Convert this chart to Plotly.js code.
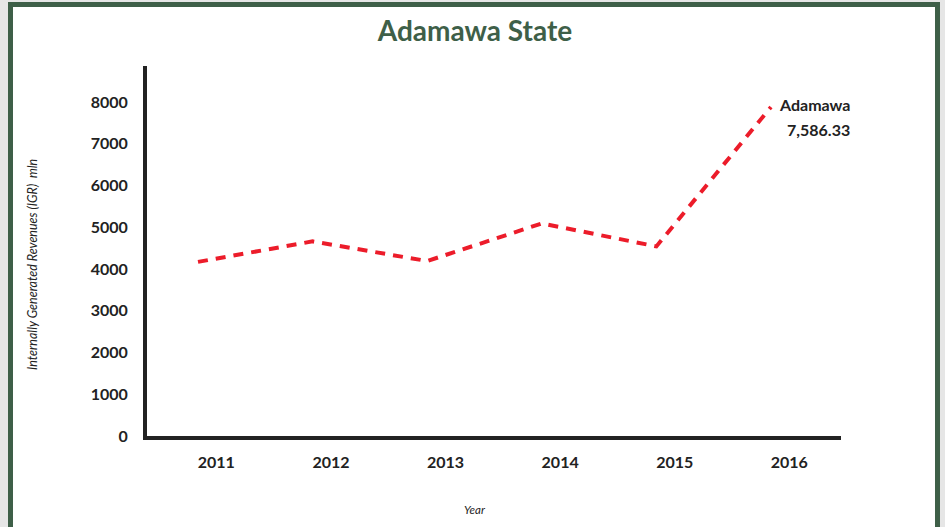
<!DOCTYPE html>
<html>
<head>
<meta charset="utf-8">
<script src="https://cdn.plot.ly/plotly-3.0.1.min.js"></script>
<style>
  html, body { margin:0; padding:0; width:945px; height:527px; overflow:hidden; background:#e6e6e6; }
  #frame { position:absolute; left:8px; top:2px; width:922px; height:530px; border:5px solid #3e5f48; background:#ffffff; }
  #chart { position:absolute; left:0; top:0; width:945px; height:527px; }
</style>
</head>
<body>
<div id="frame"></div>
<div id="chart"></div>
<script>
const years = ['2011','2012','2013','2014','2015','2016'];
const igr = [4170, 4660, 4190, 5090, 4540, 7880];
const endName = 'Adamawa';
const endValue = '7,586.33';
const chartTitle = 'Adamawa State';
const yTitle = 'Internally Generated Revenues (IGR)  mln';
const xTitle = 'Year';
const yTicks = [0,1000,2000,3000,4000,5000,6000,7000,8000];

const idx = years.map((_, i) => i);
const labelShift = 0.16;
const last = idx.length - 1;

const trace = {
  x: idx,
  y: igr,
  type: 'scatter',
  mode: 'lines',
  line: { color: '#ec1c2a', width: 4, dash: '10px,8px' },
  hoverinfo: 'skip',
  showlegend: false
};

const font = "Lato, 'Open Sans', sans-serif";
const L = 147, R = 841, T = 66, B = 436;

const layout = {
  width: 945, height: 527,
  margin: { l: L, r: 945 - R, t: T, b: 527 - B },
  paper_bgcolor: 'rgba(0,0,0,0)',
  plot_bgcolor: 'rgba(0,0,0,0)',
  font: { family: font, color: '#222222' },
  title: {
    text: '<b>' + chartTitle + '</b>',
    font: { family: font, size: 28, color: '#3e5f48' },
    x: 475 / 945, xanchor: 'center', xref: 'container',
    y: 1 - 31 / 527, yanchor: 'middle', yref: 'container'
  },
  xaxis: {
    range: [-(198 - L) / 114.6, (R - 198) / 114.6],
    showgrid: false, zeroline: false,
    showline: true, linecolor: '#222222', linewidth: 4,
    tickmode: 'array',
    tickvals: idx.map(i => i + labelShift),
    ticktext: years.map(y => '<b>' + y + '</b>'),
    ticks: '', ticklabelstandoff: 9,
    tickfont: { family: font, size: 16, color: '#222222' },
    fixedrange: true
  },
  yaxis: {
    range: [0, 8860],
    showgrid: false, zeroline: false,
    showline: true, linecolor: '#222222', linewidth: 4,
    tickmode: 'array',
    tickvals: yTicks,
    ticktext: yTicks.map(v => '<b>' + v + '</b>'),
    ticks: '', ticklabelstandoff: 12,
    tickfont: { family: font, size: 16, color: '#222222' },
    fixedrange: true
  },
  annotations: [
    {
      text: '<b>' + endName + '</b>',
      xref: 'x', yref: 'y',
      x: idx[last], y: igr[last],
      xanchor: 'right', yanchor: 'middle',
      xshift: 81, yshift: 2,
      showarrow: false,
      font: { family: font, size: 16, color: '#222222' }
    },
    {
      text: '<b>' + endValue + '</b>',
      xref: 'x', yref: 'y',
      x: idx[last], y: igr[last],
      xanchor: 'right', yanchor: 'middle',
      xshift: 81, yshift: -23,
      showarrow: false,
      font: { family: font, size: 16, color: '#222222' }
    },
    {
      text: '<i>' + yTitle + '</i>',
      xref: 'paper', yref: 'paper',
      x: (32 - L) / (R - L), y: (B - 265) / (B - T),
      xanchor: 'center', yanchor: 'middle',
      textangle: -90, showarrow: false,
      font: { family: font, size: 12.5, color: '#222222' }
    },
    {
      text: '<i>' + xTitle + '</i>',
      xref: 'paper', yref: 'paper',
      x: (475 - L) / (R - L), y: -(509 - B) / (B - T),
      xanchor: 'center', yanchor: 'middle',
      showarrow: false,
      font: { family: font, size: 11.5, color: '#222222' }
    }
  ]
};

Plotly.newPlot('chart', [trace], layout, { staticPlot: true, displayModeBar: false });
</script>
</body>
</html>
